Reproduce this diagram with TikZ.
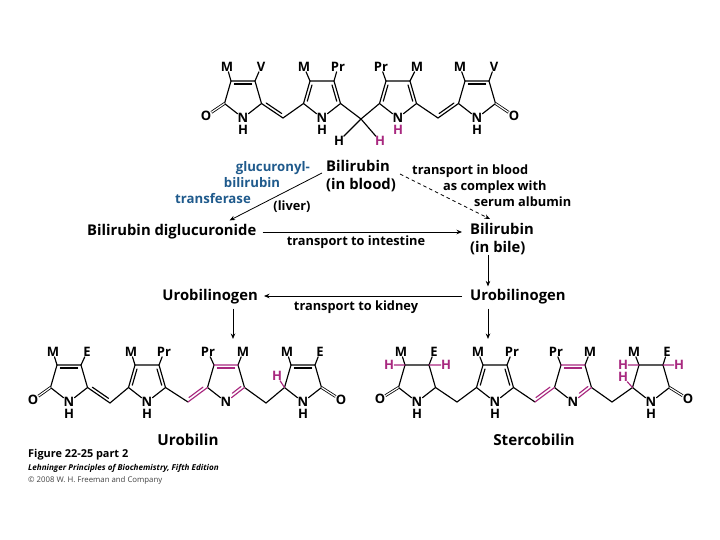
\documentclass[tikz,border=0pt]{standalone}
\usepackage{fontspec}
\setmainfont{Open Sans}
\usetikzlibrary{arrows.meta,calc}
\definecolor{hipink}{HTML}{A8287F}
\definecolor{enzblue}{HTML}{1F5A8C}
\tikzset{
    bond/.style={line width=1.15pt, line cap=round},
    hibond/.style={line width=1.15pt, line cap=round, hipink},
    cobond/.style={line width=0.8pt, double, double distance=1.2pt},
    atom/.style={inner sep=0pt, font=\bfseries\fontsize{13}{13}\selectfont},
    hatom/.style={atom, hipink},
    lbl/.style={inner sep=0pt, align=left, font=\bfseries\fontsize{14.8}{18}\selectfont},
    smalllbl/.style={inner sep=0pt, align=left, font=\bfseries\fontsize{12.8}{14}\selectfont},
    enz/.style={smalllbl, enzblue, font=\bfseries\fontsize{13.2}{14}\selectfont},
    pigment/.style={inner sep=0pt, font=\bfseries\fontsize{15.2}{16}\selectfont},
    arr/.style={line width=0.8pt, -{Stealth[length=5.5pt,width=4.5pt]}},
    darr/.style={arr, dash pattern=on 3.5pt off 3pt}
}
% ring atoms around the N at #2,#3
\newcommand{\ringat}[3]{
    \node[atom] (#1) at (#2,#3) {N};
    \coordinate (#11) at ($(#1)+(-18.5,-14.5)$);
    \coordinate (#12) at ($(#1)+(-12,-37)$);
    \coordinate (#13) at ($(#1)+(12,-37)$);
    \coordinate (#14) at ($(#1)+(18.5,-14.5)$);
}
% second line of a double bond, to the left of #2 -> #3
\newcommand{\dbond}[3][bond]{
    \draw[#1] ($(#2)!.14!(#3)!3pt!90:(#3)$) -- ($(#3)!.14!(#2)!3pt!-90:(#2)$);
}
\begin{document}
\begin{tikzpicture}[x=1pt,y=-1pt]
    \useasboundingbox (0,0) rectangle (720,540);
    % top: bilirubin
    \ringat{a}{243}{118}
    \ringat{b}{322}{118}
    \ringat{c}{398}{118}
    \ringat{d}{477}{118}
    \coordinate (ab) at (283,118);
    \coordinate (bc) at (361,119);
    \coordinate (cd) at (438,118);
    \node[atom] (ah) at (243,130) {H};
    \node[atom] (bh) at (322,130) {H};
    \node[hatom] (ch) at (398,130) {H};
    \node[atom] (dh) at (477,130) {H};
    \node[atom] (ao) at (206,116) {O};
    \node[atom] (do) at (514,116) {O};
    \node[atom] (am) at (227,67) {M};
    \node[atom] (av) at (261,67) {V};
    \node[atom] (bm) at (304,67) {M};
    \node[atom] (bp) at (338,67) {Pr};
    \node[atom] (cp) at (381,67) {Pr};
    \node[atom] (cm) at (417,67) {M};
    \node[atom] (dm) at (460,67) {M};
    \node[atom] (dv) at (494,67) {V};
    \node[atom] (hl) at (339,141) {H};
    \node[hatom] (hr) at (380,141) {H};
    \draw[bond] (a) -- (a1) -- (a2) -- (a3) -- (a4) -- (a) (a4) -- (ab) -- (b1) -- (b2) -- (b3) -- (b4) -- (b) -- (b1);
    \draw[bond] (b4) -- (bc) -- (c1) -- (c2) -- (c3) -- (c4) -- (c) -- (c1) (c4) -- (cd) -- (d1) -- (d2) -- (d3) -- (d4) -- (d) -- (d1);
    \draw[bond] (a2) -- (am) (a3) -- (av) (b2) -- (bm) (b3) -- (bp) (c2) -- (cp) (c3) -- (cm) (d2) -- (dm) (d3) -- (dv);
    \draw[bond] (bc) -- (hl) (bc) -- (hr);
    \draw[cobond] (a1) -- (ao);
    \draw[cobond] (d4) -- (do);
    \dbond{a3}{a2}
    \dbond{a4}{ab}
    \dbond{b2}{b1}
    \dbond{b4}{b3}
    \dbond{c2}{c1}
    \dbond{c4}{c3}
    \dbond{cd}{d1}
    \dbond{d3}{d2}
    % pathway
    \node[lbl, anchor=west] (blood) at (326,176.5) {Bilirubin\\(in blood)};
    \node[enz, anchor=east] (enzone) at (310,168) {glucuronyl-};
    \node[enz] (enztwo) at (252,183) {bilirubin};
    \node[enz] (enzthree) at (213,199) {transferase};
    \node[smalllbl] (liver) at (292,207) {(liver)};
    \node[smalllbl, anchor=west] (trone) at (412,171) {transport in blood};
    \node[smalllbl, anchor=west] (trtwo) at (443,187) {as complex with};
    \node[smalllbl, anchor=west] (trthree) at (474,202) {serum albumin};
    \node[lbl, anchor=west] (digluc) at (87,231.5) {Bilirubin diglucuronide};
    \node[lbl, anchor=west] (bile) at (470,239) {Bilirubin\\(in bile)};
    \node[smalllbl] (intest) at (356,242) {transport to intestine};
    \node[lbl, anchor=east] (uroleft) at (258,296.5) {Urobilinogen};
    \node[lbl, anchor=west] (uroright) at (470,296.5) {Urobilinogen};
    \node[smalllbl] (kidney) at (356,307) {transport to kidney};
    \draw[arr] ($(blood.west)+(-4,-3.5)$) -- ($(digluc.north east)+(-27,-3.5)$);
    \draw[darr] ($(blood.east)+(4,-2.5)$) -- ($(bile.north west)+(20,-4)$);
    \draw[arr] ($(digluc.east)+(6,.5)$) -- ($(bile.west)+(-8,-7)$);
    \draw[arr] ($(bile.south west)+(18,0)$) -- ($(uroright.north west)+(18,-2.5)$);
    \draw[arr] ($(uroright.west)+(-8,-.5)$) -- ($(uroleft.east)+(6,-.5)$);
    % urobilin
    \ringat{e}{69}{402}
    \ringat{f}{147}{402}
    \ringat{g}{226}{402}
    \ringat{k}{303}{402}
    \coordinate (ef) at (110,403);
    \coordinate (fg) at (188,402);
    \coordinate (gk) at (266,403);
    \coordinate (gn) at ($(g)!.35!(g4)$);
    \node[atom] (eh) at (69,414) {H};
    \node[atom] (fh) at (147,414) {H};
    \node[atom] (kh) at (303,414) {H};
    \node[atom] (eo) at (33,400) {O};
    \node[atom] (ko) at (341,400) {O};
    \node[atom] (em) at (53,352) {M};
    \node[atom] (ee) at (87,352) {E};
    \node[atom] (fm) at (131,352) {M};
    \node[atom] (fp) at (164,352) {Pr};
    \node[atom] (gp) at (208,352) {Pr};
    \node[atom] (gm) at (243,352) {M};
    \node[atom] (km) at (287,352) {M};
    \node[atom] (ke) at (320,352) {E};
    \node[hatom] (kt) at (277,376) {H};
    \draw[bond] (e) -- (e1) -- (e2) -- (e3) -- (e4) -- (e) (e4) -- (ef) -- (f1) -- (f2) -- (f3) -- (f4) -- (f) -- (f1) (f4) -- (fg);
    \draw[bond] (g4) -- (gk) -- (k1) -- (k2) -- (k3) -- (k4) -- (k) -- (k1) (g1) -- (g2) (g3) -- (g4) (g1) -- (g);
    \draw[bond] (e2) -- (em) (e3) -- (ee) (f2) -- (fm) (f3) -- (fp) (g2) -- (gp) (g3) -- (gm) (k2) -- (km) (k3) -- (ke);
    \draw[hibond] (fg) -- (g1) (g2) -- (g3) (g) -- (g4) (k1) -- (kt);
    \draw[cobond] (e1) -- (eo);
    \draw[cobond] (k4) -- (ko);
    \dbond{e3}{e2}
    \dbond{e4}{ef}
    \dbond{f2}{f1}
    \dbond{f4}{f3}
    \dbond[hibond]{fg}{g1}
    \dbond[hibond]{g3}{g2}
    \dbond[hibond]{gn}{g4}
    \dbond{k3}{k2}
    \node[pigment] (urobilin) at (188,440) {Urobilin};
    % stercobilin
    \ringat{p}{417}{402}
    \ringat{q}{495}{402}
    \ringat{r}{573}{402}
    \ringat{s}{651}{402}
    \coordinate (pq) at (457,402);
    \coordinate (qr) at (535,402);
    \coordinate (rs) at (612,402);
    \coordinate (rn) at ($(r)!.35!(r4)$);
    \node[atom] (ph) at (417,414) {H};
    \node[atom] (qh) at (495,414) {H};
    \node[atom] (sh) at (651,414) {H};
    \node[atom] (po) at (380,399) {O};
    \node[atom] (so) at (688,399) {O};
    \node[atom] (pm) at (401,352) {M};
    \node[atom] (pe) at (434,352) {E};
    \node[atom] (qm) at (478,352) {M};
    \node[atom] (qp) at (512,352) {Pr};
    \node[atom] (rp) at (556,352) {Pr};
    \node[atom] (rm) at (590,352) {M};
    \node[atom] (sm) at (634,352) {M};
    \node[atom] (se) at (667,352) {E};
    \node[hatom] (pl) at (389,365) {H};
    \node[hatom] (pr) at (446,365) {H};
    \node[hatom] (sl) at (623,365) {H};
    \node[hatom] (sb) at (623,377) {H};
    \node[hatom] (sr) at (679,365) {H};
    \draw[bond] (p) -- (p1) -- (p2) -- (p3) -- (p4) -- (p) (p4) -- (pq) -- (q1) -- (q2) -- (q3) -- (q4) -- (q) -- (q1) (q4) -- (qr);
    \draw[bond] (r4) -- (rs) -- (s1) -- (s2) -- (s3) -- (s4) -- (s) -- (s1) (r1) -- (r2) (r3) -- (r4) (r1) -- (r);
    \draw[bond] (p2) -- (pm) (p3) -- (pe) (q2) -- (qm) (q3) -- (qp) (r2) -- (rp) (r3) -- (rm) (s2) -- (sm) (s3) -- (se);
    \draw[hibond] (qr) -- (r1) (r2) -- (r3) (r) -- (r4) (p2) -- (pl) (p3) -- (pr) (s2) -- (sl) (s1) -- (sb) (s3) -- (sr);
    \draw[cobond] (p1) -- (po);
    \draw[cobond] (s4) -- (so);
    \dbond{q2}{q1}
    \dbond{q4}{q3}
    \dbond[hibond]{qr}{r1}
    \dbond[hibond]{r3}{r2}
    \dbond[hibond]{rn}{r4}
    \node[pigment] (stercobilin) at (534,440) {Stercobilin};
    % arrows down to the two products
    \draw[arr] ($(uroleft.south east)+(-25,4.5)$) -- ($(urobilin.north)+(45,-95)$);
    \draw[arr] ($(uroright.south west)+(18,4.5)$) -- ($(stercobilin.north)+(-46,-95)$);
    % caption
    \node[inner sep=0pt, anchor=west, font=\bfseries\fontsize{10.9}{12}\selectfont] (figcap) at (28,455) {Figure 22-25 part 2};
    \node[inner sep=0pt, anchor=west, font=\bfseries\itshape\fontsize{8.1}{9}\selectfont] (bookcap) at (28,468) {Lehninger Principles of Biochemistry, Fifth Edition};
    \node[inner sep=0pt, anchor=west, font=\fontsize{7.8}{9}\selectfont, black!75] (copycap) at (28,480) {© 2008 W. H. Freeman and Company};
\end{tikzpicture}
\end{document}
